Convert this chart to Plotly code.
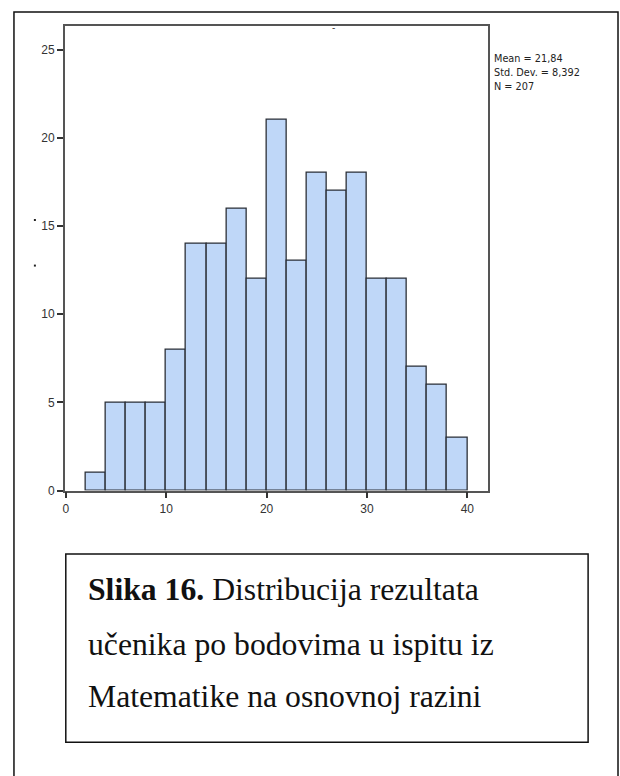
import plotly.graph_objects as go

# Data
bin_starts = [2, 4, 6, 8, 10, 12, 14, 16, 18, 20, 22, 24, 26, 28, 30, 32, 34, 36, 38]
counts = [1, 5, 5, 5, 8, 14, 14, 16, 12, 21, 13, 18, 17, 18, 12, 12, 7, 6, 3]
bin_width = 2
x_ticks = [0, 10, 20, 30, 40]
y_ticks = [0, 5, 10, 15, 20, 25]
stats_lines = ["Mean = 21,84", "Std. Dev. = 8,392", "N = 207"]
caption_bold = "Slika 16."
caption_lines = [" Distribucija rezultata", "učenika po bodovima u ispitu iz",
                 "Matematike na osnovnoj razini"]

W, H = 620, 776

def px(x):
    return x / W

def py(y):
    return 1 - y / H

centers = [s + bin_width / 2 for s in bin_starts]

fig = go.Figure()
fig.add_trace(go.Bar(
    x=centers, y=counts, width=[bin_width] * len(counts),
    marker=dict(color="#bfd7f8", line=dict(color="#2b2f36", width=1.3)),
    hoverinfo="x+y", showlegend=False,
))

axis_font = dict(family="Liberation Sans, Arial, sans-serif", size=12, color="#333333")

fig.update_layout(
    width=W, height=H,
    margin=dict(l=0, r=0, t=0, b=0),
    paper_bgcolor="white", plot_bgcolor="white",
    bargap=0,
    xaxis=dict(domain=[px(63), px(488)], range=[-0.1, 42.1],
               tickvals=x_ticks, ticks="outside", ticklen=6, tickwidth=1.5,
               tickcolor="#333333", showline=True, linecolor="#555555", linewidth=1.5,
               mirror=True, showgrid=False, zeroline=False, tickfont=axis_font),
    yaxis=dict(domain=[py(495), py(26)], range=[0, 26.35],
               tickvals=y_ticks, ticks="outside", ticklen=6, tickwidth=1.5,
               tickcolor="#333333", showline=True, linecolor="#555555", linewidth=1.5,
               mirror=True, showgrid=False, zeroline=False, tickfont=axis_font),
)

# stats text
fig.add_annotation(
    xref="paper", yref="paper", x=px(492), y=py(50), xanchor="left", yanchor="top",
    text="<br>".join(stats_lines), align="left", showarrow=False,
    font=dict(family="Liberation Sans Narrow, DejaVu Sans Condensed, Liberation Sans, Arial, sans-serif",
              size=10.8, color="#222222"),
)

# remnant of title dash
fig.add_annotation(xref="paper", yref="paper", x=px(333), y=py(20), text="-",
                   showarrow=False, font=dict(family="Liberation Sans", size=10, color="#444444"))

# outer frame
fig.add_shape(type="rect", xref="paper", yref="paper",
              x0=px(12), x1=px(618), y0=-0.02, y1=py(12),
              line=dict(color="#111111", width=1.5), fillcolor="rgba(0,0,0,0)")
# caption box
fig.add_shape(type="rect", xref="paper", yref="paper",
              x0=px(64), x1=px(588), y0=py(749), y1=py(559),
              line=dict(color="#111111", width=1.5), fillcolor="rgba(0,0,0,0)")

# left remnants
for yy in (222, 268):
    fig.add_shape(type="rect", xref="paper", yref="paper",
                  x0=px(32), x1=px(34), y0=py(yy + 1), y1=py(yy - 1),
                  line=dict(width=0), fillcolor="#222222")

cap_font = dict(family="Liberation Serif, Times New Roman, serif", size=31.7, color="#111111")
cap_y = [595, 650, 703]
texts = ["<b>" + caption_bold + "</b>" + caption_lines[0], caption_lines[1], caption_lines[2]]
for t, yy in zip(texts, cap_y):
    fig.add_annotation(xref="paper", yref="paper", x=px(84), y=py(yy),
                       xanchor="left", yanchor="middle", text=t, showarrow=False,
                       align="left", font=cap_font)

fig.write_html(
    "out.html",
    config={"displayModeBar": False},
    post_script="document.body.style.margin='0';document.body.style.overflow='hidden';",
)
